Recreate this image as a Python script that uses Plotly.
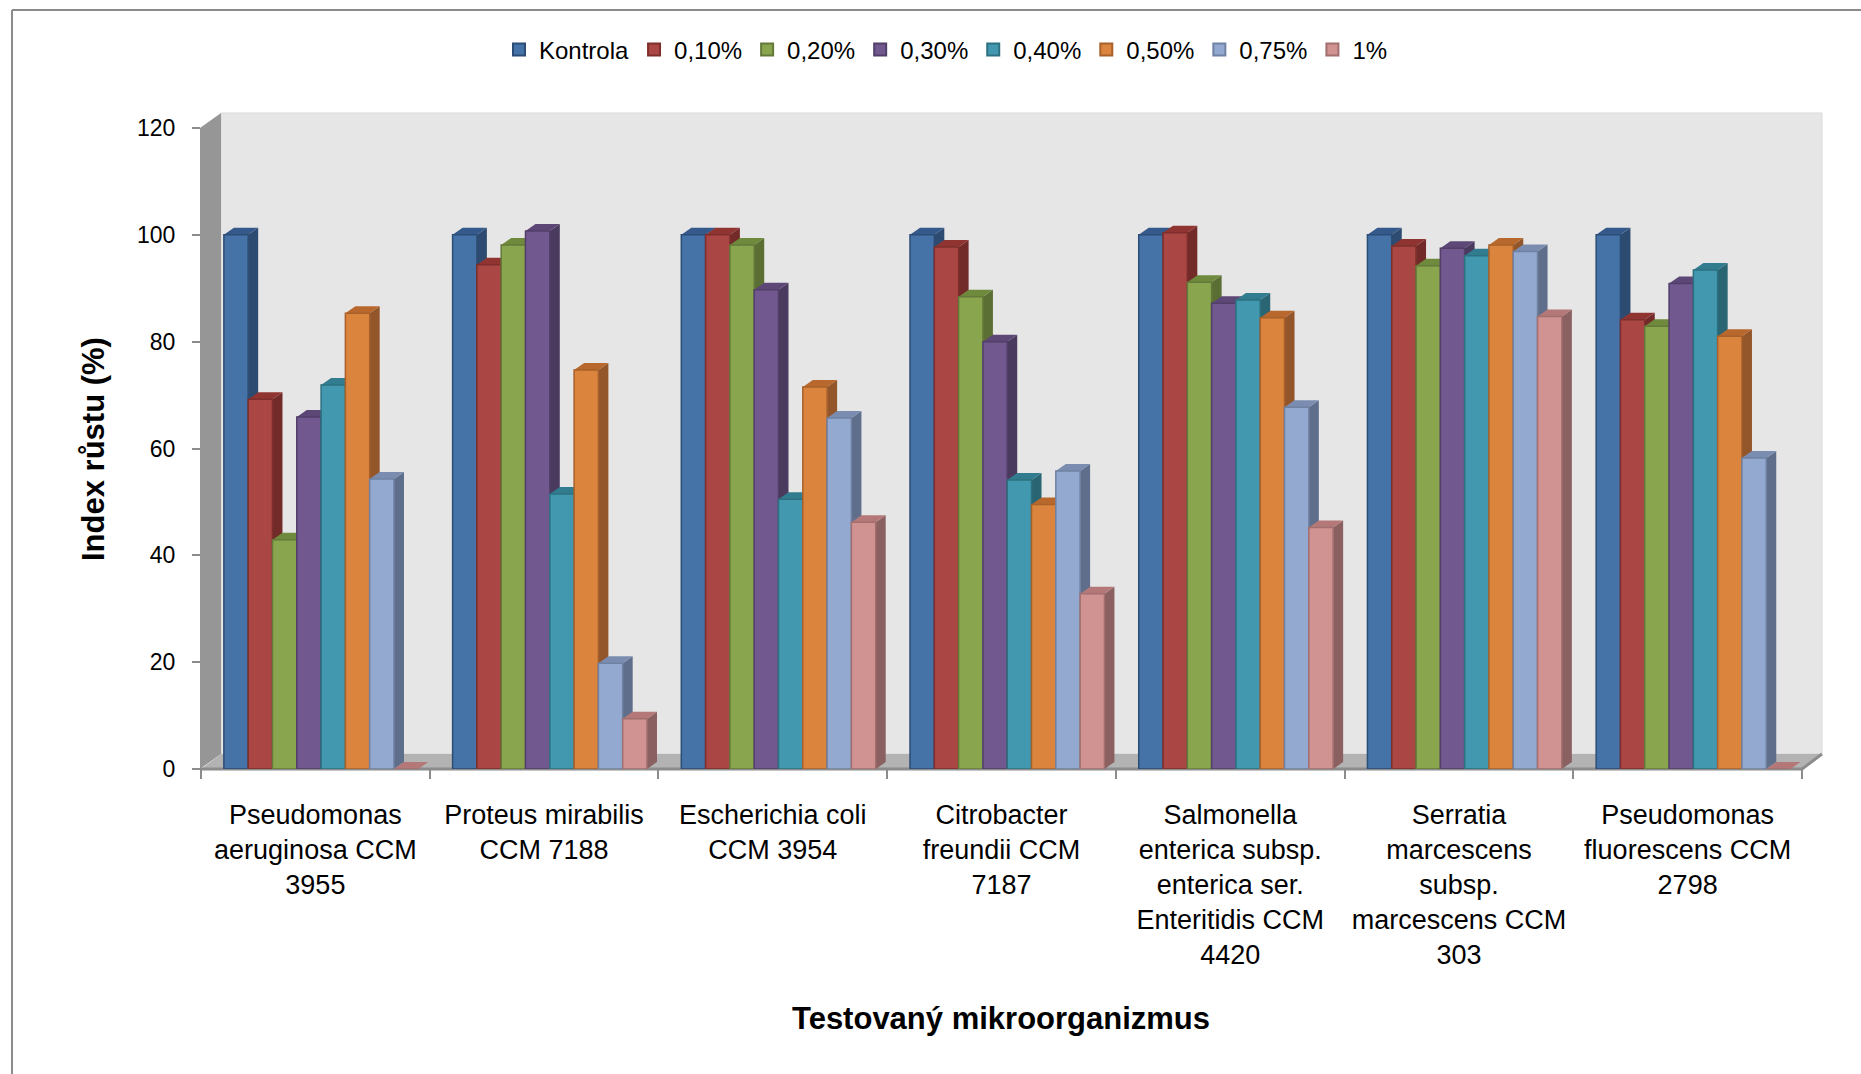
import plotly.graph_objects as go

# ---------------- data ----------------
categories = [
    "Pseudomonas<br>aeruginosa CCM<br>3955",
    "Proteus mirabilis<br>CCM 7188",
    "Escherichia coli<br>CCM 3954",
    "Citrobacter<br>freundii CCM<br>7187",
    "Salmonella<br>enterica subsp.<br>enterica ser.<br>Enteritidis CCM<br>4420",
    "Serratia<br>marcescens<br>subsp.<br>marcescens CCM<br>303",
    "Pseudomonas<br>fluorescens CCM<br>2798",
]
series_names = ["Kontrola", "0,10%", "0,20%", "0,30%", "0,40%", "0,50%", "0,75%", "1%"]

kontrola = [100, 100, 100, 100, 100, 100, 100]
c010 = [69.2, 94.4, 100.0, 97.7, 100.4, 97.9, 84.1]
c020 = [42.9, 98.1, 98.1, 88.4, 91.1, 94.2, 82.9]
c030 = [65.9, 100.7, 89.7, 80.0, 87.2, 97.5, 90.9]
c040 = [71.9, 51.5, 50.5, 54.1, 87.8, 96.1, 93.4]
c050 = [85.3, 74.7, 71.5, 49.5, 84.5, 98.1, 81.0]
c075 = [54.3, 19.8, 65.7, 55.8, 67.7, 96.9, 58.2]
c100 = [0.0, 9.4, 46.2, 32.8, 45.2, 84.7, 0.0]
series_values = [kontrola, c010, c020, c030, c040, c050, c075, c100]

y_ticks = [0, 20, 40, 60, 80, 100, 120]

# ---------------- styles ----------------
face = ["#4572A7", "#AA4643", "#89A54E", "#71588F", "#4198AF", "#DB843D", "#93A9CF", "#D19392"]
edge = ["#2C4D75", "#7E2F2D", "#64793A", "#523F69", "#2D7080", "#A8612A", "#6F82A3", "#A06F6E"]
side = ["#2D4B70", "#722B29", "#5B6E33", "#4A3A5E", "#2A6574", "#93552A", "#5F6F8B", "#8B6060"]
top_ = ["#35598A", "#8F3431", "#6F8A3C", "#5C4777", "#327C8F", "#B8682C", "#7A8DB0", "#B37877"]

FONT = "Liberation Sans, Arial, sans-serif"

# figure geometry (pixels)
FIG_W, FIG_H = 1861, 1074
L, R, T, B = 201, 1822, 113, 769
PW, PH = R - L, B - T
n_cat = len(categories)
cat_px = (1802 - L) / n_cat            # pixel width of one category
x_max = n_cat - 0.5 + (R - 1802) / cat_px
y_px = (B - 128) / 120.0               # pixels per y unit
y_max = (B - T) / y_px


def px(xp):
    return (xp - L) / PW


def py(yp):
    return (B - yp) / PH


# bar layout (group of 8 bars, 85% of category width)
n_ser = len(series_names)
group_w = 0.85
bar_w = group_w / n_ser
shift = 0.025
depth_dx = 10 / cat_px       # 3D depth of bars, in axis units
depth_dy = 7 / y_px

fig = go.Figure()

shapes = []
# chart frame (left + top border)
shapes.append(dict(type="line", xref="paper", yref="paper", x0=px(12), x1=px(12), y0=py(10), y1=py(FIG_H + 5),
                   line=dict(color="#8C8C8C", width=2), layer="below"))
shapes.append(dict(type="line", xref="paper", yref="paper", x0=px(12), x1=px(FIG_W + 5), y0=py(10), y1=py(10),
                   line=dict(color="#8C8C8C", width=2), layer="below"))
# back wall
shapes.append(dict(type="rect", xref="paper", yref="paper", x0=px(221), x1=px(1822), y0=py(754), y1=py(113),
                   fillcolor="#E6E6E6", line=dict(color="#D9D9D9", width=1), layer="below"))
# left wall
shapes.append(dict(type="path", xref="paper", yref="paper",
                   path=f"M {px(200)},{py(769)} L {px(200)},{py(128)} L {px(221)},{py(113)} L {px(221)},{py(754)} Z",
                   fillcolor="#969696", line=dict(width=0), layer="below"))
# floor
shapes.append(dict(type="path", xref="paper", yref="paper",
                   path=f"M {px(201)},{py(769)} L {px(1802)},{py(769)} L {px(1822)},{py(754)} L {px(221)},{py(754)} Z",
                   fillcolor="#B3B3B3", line=dict(width=0), layer="below"))
shapes.append(dict(type="path", xref="paper", yref="paper",
                   path=f"M {px(200)},{py(769)} L {px(1802)},{py(769)} L {px(1822)},{py(754)}",
                   line=dict(color="#8C8C8C", width=3), layer="below"))

# 3D side & top faces of bars (drawn under the front faces)
for k in range(n_ser):
    for i in range(n_cat):
        v = series_values[k][i]
        x0 = i - group_w / 2 + k * bar_w + shift
        x1 = x0 + bar_w
        # side face
        if v > 0:
            shapes.append(dict(type="path", xref="x", yref="y",
                               path=f"M {x1},0 L {x1 + depth_dx},{depth_dy} L {x1 + depth_dx},{v + depth_dy} L {x1},{v} Z",
                               fillcolor=side[k], line=dict(width=0), layer="below"))
        # top face
        shapes.append(dict(type="path", xref="x", yref="y",
                           path=f"M {x0},{v} L {x1},{v} L {x1 + depth_dx},{v + depth_dy} L {x0 + depth_dx},{v + depth_dy} Z",
                           fillcolor=top_[k], line=dict(width=0), layer="below"))

for k in range(n_ser):
    fig.add_trace(go.Bar(
        name=series_names[k],
        x=list(range(n_cat)),
        y=series_values[k],
        width=bar_w,
        offset=-group_w / 2 + k * bar_w + shift,
        marker=dict(color=face[k], line=dict(color=edge[k], width=1.5)),
    ))

fig.update_layout(
    width=FIG_W, height=FIG_H,
    margin=dict(l=L, r=FIG_W - R, t=T, b=FIG_H - B, autoexpand=False),
    paper_bgcolor="white",
    plot_bgcolor="rgba(0,0,0,0)",
    barmode="overlay",
    font=dict(family=FONT, color="#000000"),
    shapes=shapes,
    showlegend=True,
    legend=dict(orientation="h", x=px(946), xanchor="center", y=py(50), yanchor="middle",
                font=dict(size=24, family=FONT), itemsizing="constant", tracegroupgap=0,
                bgcolor="rgba(0,0,0,0)", itemwidth=30),
    xaxis=dict(range=[-0.5, x_max], tickmode="array", tickvals=list(range(n_cat)), ticktext=categories,
               ticks="", showline=False, showgrid=False, zeroline=False,
               tickfont=dict(size=27, family=FONT), ticklabelstandoff=27,
               minor=dict(tickmode="linear", tick0=-0.5, dtick=1, ticks="outside", ticklen=9,
                          tickcolor="#8C8C8C", tickwidth=2, showgrid=False)),
    yaxis=dict(range=[0, y_max], tickmode="array", tickvals=y_ticks, ticks="outside", ticklen=8,
               tickcolor="#8C8C8C", tickwidth=2, showline=False, showgrid=False, zeroline=False,
               tickfont=dict(size=23, family=FONT), ticklabelstandoff=12),
    annotations=[
        dict(text="<b>Testovaný mikroorganizmus</b>", xref="paper", yref="paper",
             x=px(1001), y=py(1018), xanchor="center", yanchor="middle", showarrow=False,
             font=dict(size=31, family=FONT)),
        dict(text="<b>Index růstu (%)</b>", xref="paper", yref="paper",
             x=px(93), y=py(449), xanchor="center", yanchor="middle", showarrow=False, textangle=-90,
             font=dict(size=31, family=FONT)),
    ],
)

fig.write_html("out.html")
